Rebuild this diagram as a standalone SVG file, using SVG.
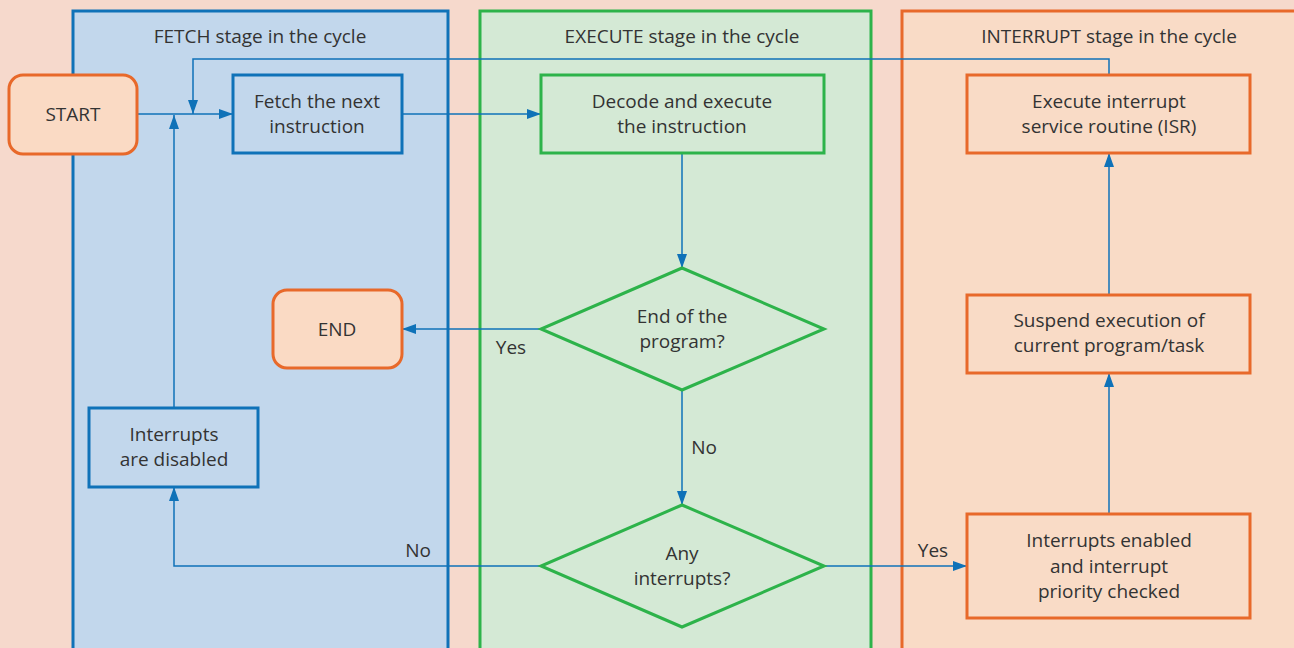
<svg xmlns="http://www.w3.org/2000/svg" width="1294" height="648" viewBox="0 0 1294 648">
<defs>
<marker id="ah" viewBox="0 0 14 10" refX="14" refY="5" markerWidth="14" markerHeight="10" markerUnits="userSpaceOnUse" orient="auto">
<path d="M0,0 L14,5 L0,10 Z" fill="#0f72b8"/>
</marker>
<style>
text{font-family:"Open Sans","Noto Sans","Liberation Sans",sans-serif;font-size:19px;fill:#333;text-anchor:middle}
.lane-f{fill:#c2d7ec;stroke:#0f72b8;stroke-width:3}
.lane-e{fill:#d4e9d5;stroke:#2db34a;stroke-width:3}
.lane-i{fill:#f9dbc6;stroke:#e8692a;stroke-width:3}
.nb{fill:#c2d7ec;stroke:#0f72b8;stroke-width:3}
.ng{fill:#d4e9d5;stroke:#2db34a;stroke-width:3}
.no{fill:#f9dbc6;stroke:#e8692a;stroke-width:3}
.term{fill:#fadac4;stroke:#e8692a;stroke-width:3}
.c{fill:none;stroke:#0f72b8;stroke-width:1.5}
</style>
</defs>
<rect width="1294" height="648" fill="#f6d9cc"/>
<g id="lane-fetch"><rect class="lane-f" x="73" y="11" width="375" height="650"/><text x="260" y="43">FETCH stage in the cycle</text></g>
<g id="lane-execute"><rect class="lane-e" x="480" y="11" width="391" height="650"/><text x="682" y="43">EXECUTE stage in the cycle</text></g>
<g id="lane-interrupt"><rect class="lane-i" x="902" y="11" width="410" height="650"/><text x="1109" y="43">INTERRUPT stage in the cycle</text></g>
<g id="connectors">
<path class="c" d="M137,114 H233" marker-end="url(#ah)"/>
<path class="c" d="M1109,75 V59 H193 V114" marker-end="url(#ah)"/>
<path class="c" d="M402,114 H541" marker-end="url(#ah)"/>
<path class="c" d="M682,153 V268" marker-end="url(#ah)"/>
<path class="c" d="M541,329 H402" marker-end="url(#ah)"/>
<path class="c" d="M682,390 V505" marker-end="url(#ah)"/>
<path class="c" d="M541,566 H174 V487" marker-end="url(#ah)"/>
<path class="c" d="M174,408 V115" marker-end="url(#ah)"/>
<path class="c" d="M824,566 H967" marker-end="url(#ah)"/>
<path class="c" d="M1109,514 V373" marker-end="url(#ah)"/>
<path class="c" d="M1109,295 V153" marker-end="url(#ah)"/>
<text x="511" y="354">Yes</text>
<text x="704" y="454">No</text>
<text x="418" y="557">No</text>
<text x="933" y="557">Yes</text>
</g>
<g id="start"><rect class="term" x="9" y="75" width="128" height="79" rx="14"/><text x="73" y="121">START</text></g>
<g id="fetch"><rect class="nb" x="233" y="75" width="169" height="78"/><text x="317" y="108">Fetch the next</text><text x="317" y="133">instruction</text></g>
<g id="decode"><rect class="ng" x="541" y="75" width="283" height="78"/><text x="682" y="108">Decode and execute</text><text x="682" y="133">the instruction</text></g>
<g id="isr"><rect class="no" x="967" y="75" width="283" height="78"/><text x="1109" y="108">Execute interrupt</text><text x="1109" y="133">service routine (ISR)</text></g>
<g id="end-q"><polygon class="ng" points="682,268 824,329 682,390 541,329"/><text x="682" y="323">End of the</text><text x="682" y="348">program?</text></g>
<g id="end"><rect class="term" x="273" y="290" width="129" height="78" rx="14"/><text x="337" y="336">END</text></g>
<g id="suspend"><rect class="no" x="967" y="295" width="283" height="78"/><text x="1109" y="327">Suspend execution of</text><text x="1109" y="352">current program/task</text></g>
<g id="disabled"><rect class="nb" x="89" y="408" width="169" height="79"/><text x="174" y="441">Interrupts</text><text x="174" y="466">are disabled</text></g>
<g id="int-q"><polygon class="ng" points="682,505 824,566 682,627 541,566"/><text x="682" y="560">Any</text><text x="682" y="585">interrupts?</text></g>
<g id="enabled"><rect class="no" x="967" y="514" width="283" height="104"/><text x="1109" y="547">Interrupts enabled</text><text x="1109" y="573">and interrupt</text><text x="1109" y="598">priority checked</text></g>
</svg>
